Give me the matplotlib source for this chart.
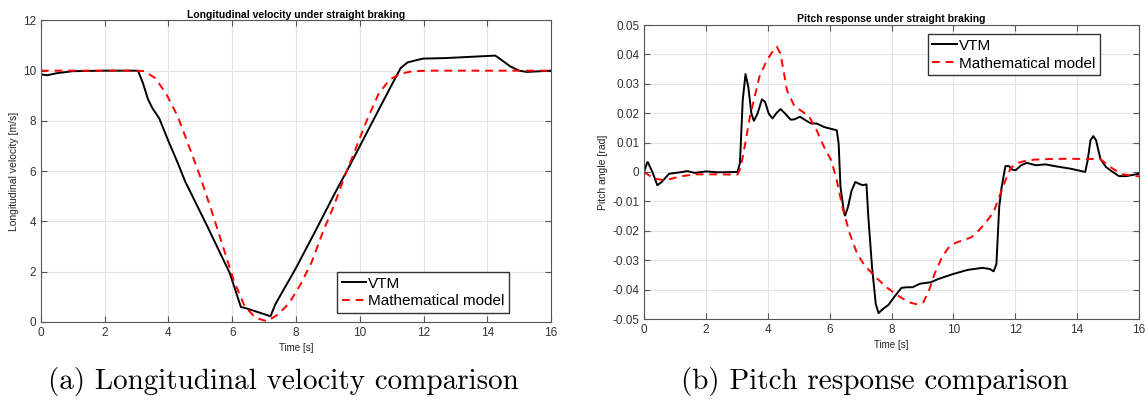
import matplotlib
matplotlib.use("Agg")
import matplotlib.pyplot as plt
import numpy as np

plt.rcParams["font.family"] = ["Liberation Sans", "DejaVu Sans"]
plt.rcParams["axes.unicode_minus"] = False

# longitudinal velocity, VTM simulation
vel_vtm_t = [0, 0.2, 0.5, 1.0, 2.0, 3.0, 3.05, 3.2, 3.36, 3.5, 3.71, 4.0, 4.29, 4.52,
             5.22, 5.92, 6.27, 6.5, 7.2, 7.35, 7.55, 7.79, 8.02, 8.6, 9.18, 9.77,
             10.35, 10.93, 11.28, 11.5, 11.98, 12.68, 14.25, 14.43, 14.72, 15.0,
             15.24, 16]
vel_vtm = [9.85, 9.82, 9.9, 9.98, 10.0, 10.0, 9.98, 9.5, 8.85, 8.5, 8.1, 7.19, 6.33,
           5.6, 3.8, 1.95, 0.6, 0.52, 0.23, 0.7, 1.15, 1.68, 2.2, 3.6, 5.03, 6.43,
           7.85, 9.26, 10.1, 10.33, 10.48, 10.5, 10.6, 10.44, 10.17, 10.0, 9.95, 10.0]

# longitudinal velocity, mathematical model
vel_mod_t = [0, 3.0, 3.24, 3.59, 3.94, 4.29, 4.64, 4.99, 5.34, 5.69, 6.04, 6.39, 6.74,
             7.09, 7.44, 7.79, 8.14, 8.48, 8.83, 9.18, 9.53, 9.88, 10.23, 10.58,
             10.93, 11.28, 11.63, 12.1, 16]
vel_mod = [10, 10, 9.98, 9.7, 9.05, 8.18, 7.0, 5.8, 4.47, 3.08, 1.68, 0.62, 0.16,
           0.03, 0.3, 0.76, 1.49, 2.35, 3.54, 4.6, 5.8, 6.92, 8.05, 9.05, 9.64,
           9.88, 9.97, 10.0, 10.0]

# pitch angle, VTM simulation
pitch_vtm_t = [0, 0.1, 0.12, 0.27, 0.43, 0.57, 0.81, 1.17, 1.4, 1.64, 2.0, 2.36, 3.02,
               3.1, 3.19, 3.28, 3.37, 3.47, 3.55, 3.67, 3.81, 3.91, 4.03, 4.15, 4.27,
               4.41, 4.56, 4.74, 4.86, 5.04, 5.22, 5.4, 5.58, 5.82, 6.0, 6.23, 6.29,
               6.35, 6.47, 6.5, 6.59, 6.71, 6.83, 6.95, 7.07, 7.19, 7.25, 7.37, 7.49,
               7.58, 7.72, 7.9, 8.08, 8.32, 8.5, 8.68, 8.92, 9.27, 9.51, 9.99, 10.46,
               10.94, 11.18, 11.3, 11.39, 11.48, 11.56, 11.68, 11.8, 11.9, 12.01,
               12.19, 12.37, 12.67, 12.97, 13.33, 13.8, 14.26, 14.34, 14.43, 14.52,
               14.61, 14.75, 14.93, 15.11, 15.35, 15.59, 16]
pitch_vtm = [0, 0.0032, 0.0034, 0, -0.0045, -0.0034, -0.0006, -0.0001, 0.0003,
             -0.0003, 0.0002, -0.0001, 0, 0.003, 0.0244, 0.0333, 0.029, 0.0199,
             0.0174, 0.0199, 0.0247, 0.0239, 0.0199, 0.0182, 0.0199, 0.0214, 0.0199,
             0.0178, 0.0179, 0.0188, 0.0176, 0.0165, 0.0165, 0.0153, 0.0148, 0.0142,
             0.0097, -0.0051, -0.0142, -0.0148, -0.012, -0.0063, -0.0034, -0.004,
             -0.0045, -0.0042, -0.0153, -0.0324, -0.0449, -0.048, -0.0466, -0.0452,
             -0.0426, -0.0394, -0.0392, -0.0392, -0.038, -0.0375, -0.0364, -0.0347,
             -0.0333, -0.0326, -0.033, -0.0338, -0.0313, -0.0119, -0.0051, 0.002,
             0.002, 0.0008, 0.0006, 0.0023, 0.0031, 0.0023, 0.0026, 0.0019, 0.0011,
             0.0, 0.004, 0.0108, 0.0122, 0.0108, 0.0045, 0.0017, 0.0003, -0.0014,
             -0.0014, -0.0006]

# pitch angle, mathematical model
pitch_mod_t = [0, 0.33, 0.69, 1.17, 1.64, 2.36, 3.02, 3.13, 3.29, 3.43, 3.55, 3.73,
               3.97, 4.15, 4.29, 4.41, 4.62, 4.86, 5.1, 5.34, 5.58, 5.82, 6.05, 6.23,
               6.41, 6.65, 6.89, 7.13, 7.49, 7.84, 8.2, 8.56, 8.85, 9.03, 9.21, 9.39,
               9.63, 9.87, 10.11, 10.35, 10.58, 10.82, 11.06, 11.3, 11.48, 11.66,
               11.84, 12.01, 12.25, 12.61, 13.09, 13.68, 14.75, 14.99, 15.23, 15.47, 16]
pitch_mod = [0, -0.0023, -0.0028, -0.0015, -0.0008, -0.0008, -0.0009, 0.0017, 0.0108,
             0.0193, 0.0244, 0.0324, 0.038, 0.0409, 0.0426, 0.0403, 0.0278, 0.0224,
             0.0207, 0.0188, 0.0142, 0.0085, 0.004, -0.0028, -0.0119, -0.021, -0.0278,
             -0.0318, -0.0358, -0.0392, -0.042, -0.0443, -0.0451, -0.0443, -0.0403,
             -0.0347, -0.029, -0.0253, -0.0239, -0.0231, -0.0222, -0.0199, -0.017,
             -0.0136, -0.0085, -0.0034, 0.0011, 0.0028, 0.0036, 0.0042, 0.0044, 0.0045,
             0.0044, 0.0023, 0.0006, -0.0008, -0.0015]

x_ticks = [0, 2, 4, 6, 8, 10, 12, 14, 16]
vel_ticks = [0, 2, 4, 6, 8, 10, 12]
pitch_ticks = [-0.05, -0.04, -0.03, -0.02, -0.01, 0, 0.01, 0.02, 0.03, 0.04, 0.05]
pitch_labels = ["-0.05", "-0.04", "-0.03", "-0.02", "-0.01", "0",
                "0.01", "0.02", "0.03", "0.04", "0.05"]

fig = plt.figure(figsize=(11.48, 4.0), dpi=100)
ax1 = fig.add_axes([0.0357, 0.195, 0.4443, 0.754])
ax2 = fig.add_axes([0.561, 0.2025, 0.4312, 0.735])


def style(ax):
    ax.grid(True, color="#e3e3e3", linewidth=0.8)
    ax.set_axisbelow(True)
    ax.tick_params(direction="in", length=4, width=0.8, colors="#555555",
                   labelcolor="#333333", labelsize=8.5, top=True, right=True)
    for s in ax.spines.values():
        s.set_color("#555555")
        s.set_linewidth(0.8)
    ax.set_xlim(0, 16)
    ax.set_xticks(x_ticks)
    ax.set_xlabel("Time [s]", fontsize=7, color="#222222", labelpad=3)


def add_legend(ax, loc, anchor):
    ax.legend(loc=loc, bbox_to_anchor=anchor, fontsize=11, fancybox=False,
              framealpha=1, edgecolor="#333333", handlelength=1.6,
              handletextpad=0.15, borderpad=0.3, labelspacing=0.25,
              borderaxespad=0)


ax1.plot(vel_vtm_t, vel_vtm, color="black", lw=1.4, label="VTM")
ax1.plot(vel_mod_t, vel_mod, color="red", lw=1.4, ls=(0, (4, 3)),
         label="Mathematical model")
style(ax1)
ax1.set_ylim(0, 12)
ax1.set_yticks(vel_ticks)
ax1.set_ylabel("Longitudinal velocity [m/s]", fontsize=7.5, color="#222222", labelpad=3)
ax1.set_title("Longitudinal velocity under straight braking", fontsize=7.5,
              fontweight="bold", pad=2)
add_legend(ax1, "lower right", (0.918, 0.03))

ax2.plot(pitch_vtm_t, pitch_vtm, color="black", lw=1.4, label="VTM")
ax2.plot(pitch_mod_t, pitch_mod, color="red", lw=1.4, ls=(0, (4, 3)),
         label="Mathematical model")
style(ax2)
ax2.set_ylim(-0.05, 0.05)
ax2.set_yticks(pitch_ticks)
ax2.set_yticklabels(pitch_labels)
ax2.set_ylabel("Pitch angle [rad]", fontsize=7.5, color="#222222", labelpad=3)
ax2.set_title("Pitch response under straight braking", fontsize=7.5,
              fontweight="bold", pad=2)
add_legend(ax2, "upper right", (0.921, 0.969))

fig.text(0.247, 0.045, "(a) Longitudinal velocity comparison", family="cmr10",
         fontsize=21, ha="center", va="center")
fig.text(0.762, 0.045, "(b) Pitch response comparison", family="cmr10",
         fontsize=21, ha="center", va="center")

fig.savefig("out.png", dpi=100)
